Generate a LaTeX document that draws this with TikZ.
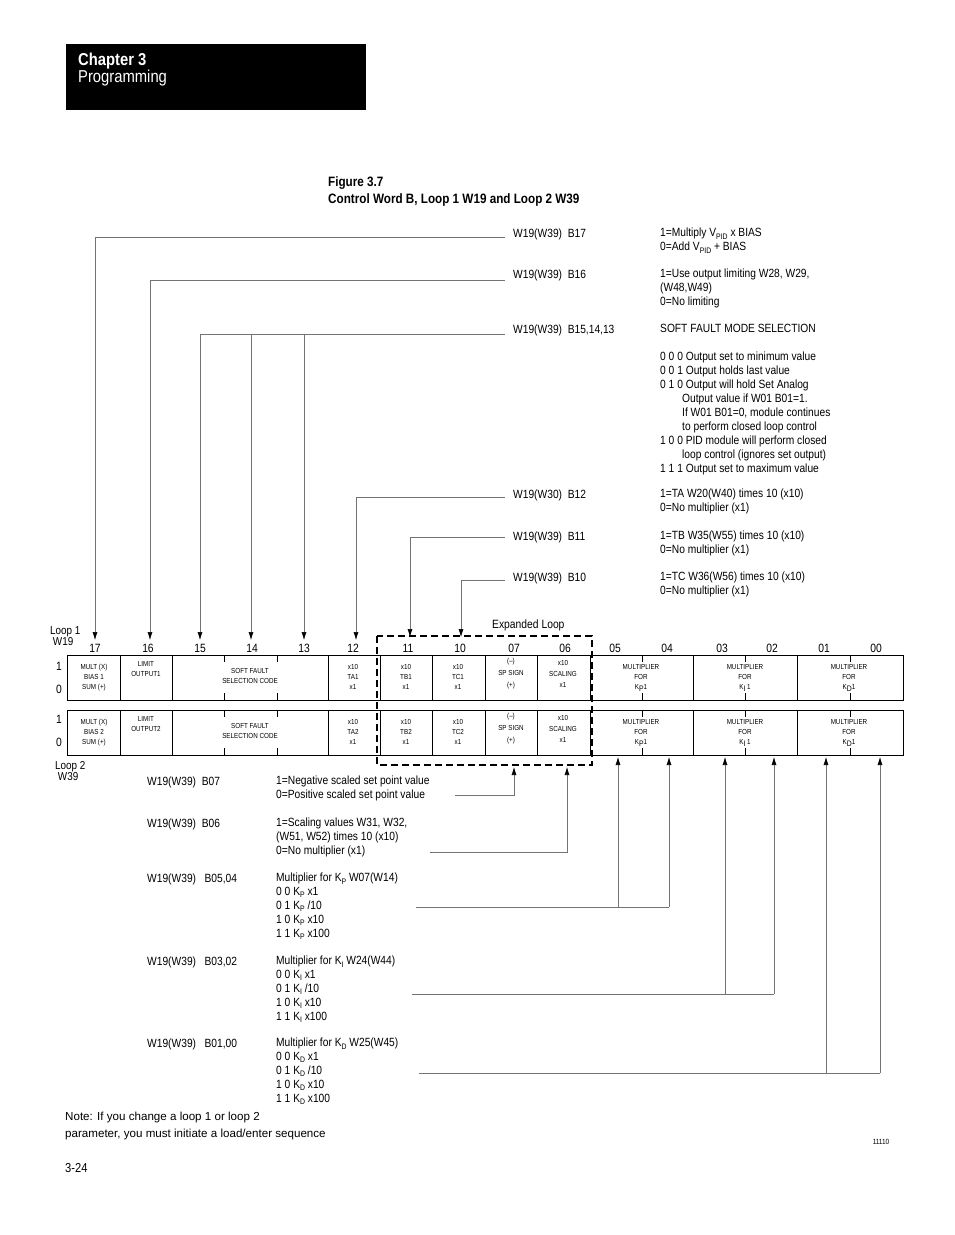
\documentclass[tikz,border=0pt]{standalone}
\usepackage{fontspec}
\setmainfont{Liberation Sans}[FakeStretch=0.86]
\newfontfamily\notefont{Liberation Sans}
\usetikzlibrary{arrows.meta}
\newcommand{\sbs}[1]{\raisebox{-0.35ex}{\fontsize{8}{8}\selectfont #1}}
\begin{document}
\begin{tikzpicture}[x=1pt,y=-1pt,
  txt/.style={anchor=west,inner sep=0pt,font=\fontsize{11.9}{14}\selectfont,align=left},
  cell/.style={inner sep=0pt,font=\fontsize{7.3}{10}\selectfont,align=center},
  bitnum/.style={inner sep=0pt,font=\fontsize{12}{12}\selectfont},
  conn/.style={draw=black!55,line width=0.6pt},
  arr/.style={conn,-{Latex[length=8pt,width=5pt,fill=black,color=black]}},
  reg/.style={draw=black,line width=0.8pt}]
\useasboundingbox (0,0) rectangle (954,1235);
% header
\fill[black] (66,44) rectangle (366,110);
\node[anchor=west,inner sep=0pt,text=white,font=\fontsize{17.2}{17}\selectfont\bfseries] (chap) at (78,61) {Chapter 3};
\node[anchor=west,inner sep=0pt,text=white,font=\fontsize{17.2}{17}\selectfont] (prog) at (78,78) {Programming};
% title
\node[anchor=west,inner sep=0pt,font=\fontsize{13.6}{17}\selectfont\bfseries,align=left] (title) at (328,191) {Figure 3.7\\Control Word B, Loop 1 W19 and Loop 2 W39};
% register rows
\foreach \yt/\nm in {655/A,710/B}{
  \draw[reg] (67,\yt) rectangle (903,\yt+45);
  \foreach \xx in {120,172,328,380,432,485,537,590,693,797}{\draw[reg] (\xx,\yt) -- (\xx,\yt+45);}
  \foreach \xx in {224,277,642,745,850}{\draw[reg] (\xx,\yt) -- (\xx,\yt+7); \draw[reg] (\xx,\yt+45) -- (\xx,\yt+38);}
}
% dashed box
\draw[line width=2pt,dashed,dash pattern=on 7pt off 4pt] (377,636) rectangle (592,765);
% bit numbers
\foreach \n/\xx in {17/95,16/148,15/200,14/252,13/304,12/353,11/408,10/460,07/514,06/565,05/615,04/667,03/722,02/772,01/824,00/876}{
  \node[bitnum] (b\n) at (\xx,648) {\n};}
\node[anchor=west,inner sep=0pt,font=\fontsize{11.5}{10}\selectfont,align=left] (l1) at (50,636) {Loop 1\\\ W19};
\node[anchor=west,inner sep=0pt,font=\fontsize{11.5}{10}\selectfont,align=left] (l2) at (55,771) {Loop 2\\\ W39};
\foreach \yy/\v in {666/1,689/0,719/1,742/0}{\node[bitnum] at (59,\yy) {\v};}
\node[anchor=west,inner sep=0pt,font=\fontsize{12}{12}\selectfont] (exp) at (492,625) {Expanded Loop};
% cell texts
\foreach \yt/\k in {0/1,55/2}{
  \node[cell] at (94,678+\yt) {MULT (X)\\BIAS \k\\SUM (+)};
  \node[cell] at (146,669+\yt) {LIMIT\\OUTPUT\k};
  \node[cell] at (250,676+\yt) {SOFT FAULT\\SELECTION CODE};
  \node[cell] at (353,677+\yt) {x10\\TA\k\\x1};
  \node[cell] at (406,677+\yt) {x10\\TB\k\\x1};
  \node[cell] at (458,677+\yt) {x10\\TC\k\\x1};
  \node[cell,font=\fontsize{7.3}{12}\selectfont] at (511,674+\yt) {(--)\\SP SIGN\\(+)};
  \node[cell,font=\fontsize{7.3}{11}\selectfont] at (563,674+\yt) {x10\\SCALING\\x1};
  \node[cell] at (641,678+\yt) {MULTIPLIER\\FOR\\K\sbs{P}1};
  \node[cell] at (745,678+\yt) {MULTIPLIER\\FOR\\K\sbs{I} 1};
  \node[cell] at (849,678+\yt) {MULTIPLIER\\FOR\\K\sbs{D}1};
}
% upper descriptions
\node[txt] (t17) at (513,234) {W19(W39)\ \ B17};
\node[txt] (t16) at (513,275) {W19(W39)\ \ B16};
\node[txt] (t15) at (513,330) {W19(W39)\ \ B15,14,13};
\node[txt] (t12) at (513,495) {W19(W30)\ \ B12};
\node[txt] (t11) at (513,537) {W19(W39)\ \ B11};
\node[txt] (t10) at (513,578) {W19(W39)\ \ B10};
\node[txt,anchor=north west] at (660,228) {1=Multiply V\sbs{PID} x BIAS\\0=Add V\sbs{PID} + BIAS};
\node[txt,anchor=north west] at (660,269) {1=Use output limiting W28, W29,\\(W48,W49)\\0=No limiting};
\node[txt,anchor=north west] at (660,324) {SOFT FAULT MODE SELECTION\\[13.5pt]
0 0 0 Output set to minimum value\\0 0 1 Output holds last value\\0 1 0 Output will hold Set Analog\\
\hspace*{22pt}Output value if W01 B01=1.\\\hspace*{22pt}If W01 B01=0, module continues\\\hspace*{22pt}to perform closed loop control\\
1 0 0 PID module will perform closed\\\hspace*{22pt}loop control (ignores set output)\\1 1 1 Output set to maximum value};
\node[txt,anchor=north west] at (660,489) {1=TA W20(W40) times 10 (x10)\\0=No multiplier (x1)};
\node[txt,anchor=north west] at (660,531) {1=TB W35(W55) times 10 (x10)\\0=No multiplier (x1)};
\node[txt,anchor=north west] at (660,572) {1=TC W36(W56) times 10 (x10)\\0=No multiplier (x1)};
% lower descriptions
\node[txt] (s07) at (147,782) {W19(W39)\ \ B07};
\node[txt] (s06) at (147,824) {W19(W39)\ \ B06};
\node[txt] (s05) at (147,879) {W19(W39)\ \ \ B05,04};
\node[txt] (s03) at (147,962) {W19(W39)\ \ \ B03,02};
\node[txt] (s01) at (147,1044) {W19(W39)\ \ \ B01,00};
\node[txt,anchor=north west] at (276,776) {1=Negative scaled set point value\\0=Positive scaled set point value};
\node[txt,anchor=north west] at (276,818) {1=Scaling values W31, W32,\\(W51, W52) times 10 (x10)\\0=No multiplier (x1)};
\node[txt,anchor=north west,font=\fontsize{11.9}{13.8}\selectfont] at (276,873) {Multiplier for K\sbs{P} W07(W14)\\0 0 K\sbs{P} x1\\0 1 K\sbs{P} /10\\1 0 K\sbs{P} x10\\1 1 K\sbs{P} x100};
\node[txt,anchor=north west,font=\fontsize{11.9}{13.8}\selectfont] at (276,956) {Multiplier for K\sbs{I} W24(W44)\\0 0 K\sbs{I} x1\\0 1 K\sbs{I} /10\\1 0 K\sbs{I} x10\\1 1 K\sbs{I} x100};
\node[txt,anchor=north west,font=\fontsize{11.9}{13.8}\selectfont] at (276,1038) {Multiplier for K\sbs{D} W25(W45)\\0 0 K\sbs{D} x1\\0 1 K\sbs{D} /10\\1 0 K\sbs{D} x10\\1 1 K\sbs{D} x100};
\node[txt,anchor=north west,font=\notefont\fontsize{11.6}{17}\selectfont] (note) at (65,1112) {Note: If you change a loop 1 or loop 2\\parameter, you must initiate a load/enter sequence};
\node[txt,font=\fontsize{13}{12}\selectfont] (pg) at (65,1168) {3-24};
\node[inner sep=0pt,font=\fontsize{7.5}{8}\selectfont] (fig) at (881,1142) {11110};
% upper connectors
\draw[arr] (t17.west)++(-8,3) -- (95,237) -- (95,640);
\draw[arr] (t16.west)++(-8,5) -- (150,280) -- (150,640);
\draw[conn] (t15.west)++(-8,4) -- (200,334);
\draw[arr] (200,334) -- (200,640);
\draw[arr] (251,334) -- (251,640);
\draw[arr] (304,334) -- (304,640);
\draw[arr] (t12.west)++(-8,2) -- (356,497) -- (356,640);
\draw[arr] (t11.west)++(-8,0) -- (410,537) -- (410,637);
\draw[arr] (t10.west)++(-8,2) -- (461,580) -- (461,637);
% lower connectors
\draw[arr] (455,795) -- (514,795) -- (514,767);
\draw[arr] (430,852) -- (567,852) -- (567,767);
\draw[conn] (416,907) -- (669,907);
\draw[arr] (618,907) -- (618,757);
\draw[arr] (669,907) -- (669,757);
\draw[conn] (412,994) -- (774,994);
\draw[arr] (725,994) -- (725,757);
\draw[arr] (774,994) -- (774,757);
\draw[conn] (419,1073) -- (880,1073);
\draw[arr] (826,1073) -- (826,757);
\draw[arr] (880,1073) -- (880,757);
\end{tikzpicture}
\end{document}
